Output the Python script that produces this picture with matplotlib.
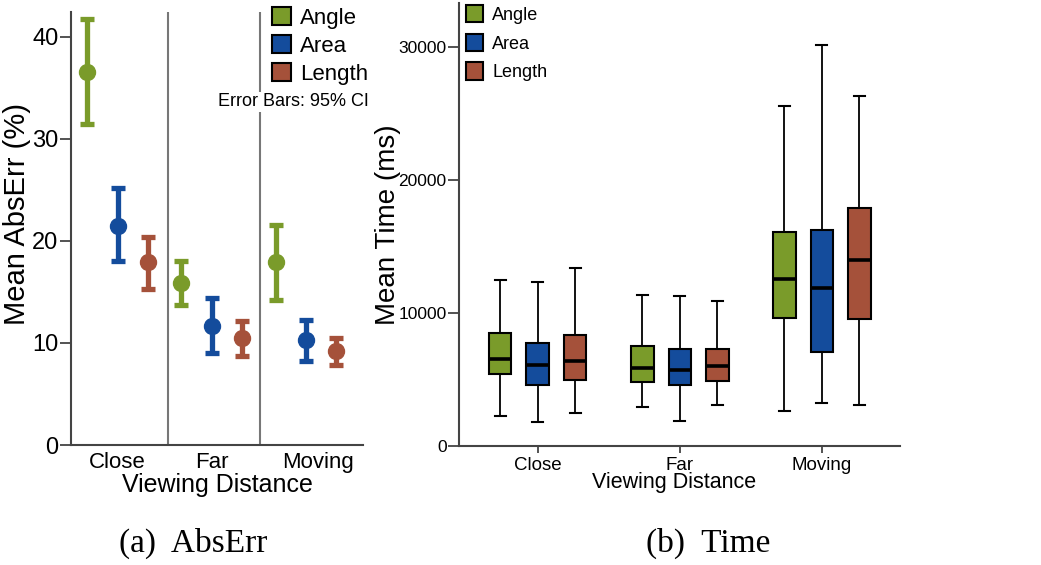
import numpy as np
import matplotlib.pyplot as plt
from matplotlib.patches import Patch

plt.rcParams['font.family'] = ['Liberation Sans', 'DejaVu Sans']

groups = ['Close', 'Far', 'Moving']
series = ['Angle', 'Area', 'Length']
colors = ['#7a9b2a', '#144c9c', '#a5513a']

# (a) mean abs error (%) with 95% CI, rows = series, cols = groups
err_mean = [[36.6, 15.85, 17.9], [21.5, 11.7, 10.3], [17.9, 10.45, 9.2]]
err_lo = [[31.5, 13.7, 14.2], [18.0, 9.0, 8.2], [15.3, 8.7, 7.85]]
err_hi = [[41.8, 18.0, 21.6], [25.2, 14.4, 12.25], [20.4, 12.2, 10.45]]

# (b) time (ms) boxplot stats, rows = series, cols = groups
t_whislo = [[2250, 2880, 2630], [1755, 1855, 3205], [2455, 3080, 3055]]
t_q1 = [[5380, 4805, 9605], [4555, 4555, 7055], [4930, 4855, 9505]]
t_med = [[6555, 5855, 12555], [6055, 5680, 11880], [6355, 5980, 13980]]
t_q3 = [[8480, 7480, 16055], [7730, 7305, 16255], [8355, 7255, 17855]]
t_whishi = [[12480, 11355, 25560], [12300, 11255, 30135], [13380, 10855, 26310]]

W, H = 1041, 565
fig = plt.figure(figsize=(W/100, H/100), dpi=100)

# ---- (a) AbsErr
ax1 = fig.add_axes([71/W, 1-445/H, 292/W, 433/H])
x = np.arange(len(groups))
off = 0.32
for i, s in enumerate(series):
    m = np.array(err_mean[i])
    lo = m - np.array(err_lo[i])
    hi = np.array(err_hi[i]) - m
    ax1.errorbar(x + (i-1)*off, m, yerr=[lo, hi], fmt='o', color=colors[i],
                 ms=11.5, elinewidth=3.8, capsize=4.7, capthick=3.8)
ax1.set_xlim(-0.495, 2.61)
ax1.set_ylim(0, 42.45)
ax1.set_yticks([0, 10, 20, 30, 40])
# the "Moving" label sits a little right of its group in the original
ax1.set_xticks(x + np.array([0, 0, 0.13]))
ax1.set_xticklabels(groups)
ax1.tick_params(axis='x', length=0, labelsize=16, pad=5)
ax1.tick_params(axis='y', length=8, width=1.3, labelsize=17, pad=1, color='#444444')
for sx in [0.535, 1.515]:
    ax1.axvline(sx, color='#777777', lw=1.5, zorder=0)
for sp in ['top', 'right']:
    ax1.spines[sp].set_visible(False)
for sp in ['left', 'bottom']:
    ax1.spines[sp].set_color('#444444')
    ax1.spines[sp].set_linewidth(1.5)
ax1.set_ylabel('Mean AbsErr (%)', fontsize=21, va='center')
ax1.yaxis.set_label_coords(-0.185, 0.533)
ax1.set_xlabel('Viewing Distance', fontsize=18, va='center')
ax1.xaxis.set_label_coords(0.5, -0.092)
fig.text(369/W, 1-102/H, 'Error Bars: 95% CI', fontsize=13, ha='right', va='center',
         bbox=dict(facecolor='white', edgecolor='none', pad=1))

handles = [Patch(facecolor=c, edgecolor='black', lw=1.5, label=s) for s, c in zip(series, colors)]
fig.legend(handles=handles, loc='upper left', bbox_to_anchor=(272/W, 1-7/H), frameon=False,
           fontsize=16, handlelength=0.85, handleheight=0.85, handletextpad=0.4,
           labelspacing=0.3, borderpad=0, borderaxespad=0)

# ---- (b) Time
ax2 = fig.add_axes([459/W, 1-445.7/H, 441/W, 442.7/H])
off2 = 0.264
for i, s in enumerate(series):
    stats = []
    for j in range(len(groups)):
        stats.append(dict(whislo=t_whislo[i][j], q1=t_q1[i][j], med=t_med[i][j],
                          q3=t_q3[i][j], whishi=t_whishi[i][j], fliers=[]))
    ax2.bxp(stats, positions=x + (i-1)*off2, widths=0.158, patch_artist=True,
            showfliers=False, manage_ticks=False,
            boxprops=dict(facecolor=colors[i], edgecolor='black', lw=1.5),
            medianprops=dict(color='black', lw=2.6),
            whiskerprops=dict(color='black', lw=1.3),
            capprops=dict(color='black', lw=1.5))
ax2.set_xlim(-0.554, 2.55)
ax2.set_ylim(0, 33300)
ax2.set_yticks([0, 10000, 20000, 30000])
ax2.set_xticks(x)
ax2.set_xticklabels(groups)
ax2.tick_params(axis='x', length=5, width=1.3, labelsize=13.5, pad=3, color='#444444')
ax2.tick_params(axis='y', length=8, width=1.3, labelsize=12.5, pad=1, color='#444444')
for sp in ['top', 'right']:
    ax2.spines[sp].set_visible(False)
for sp in ['left', 'bottom']:
    ax2.spines[sp].set_color('#444444')
    ax2.spines[sp].set_linewidth(1.5)
ax2.set_ylabel('Mean Time (ms)', fontsize=20, va='center')
ax2.yaxis.set_label_coords(-0.16, 0.4985)
ax2.set_xlabel('Viewing Distance', fontsize=15.5, va='center')
ax2.xaxis.set_label_coords(0.4875, -0.084)
fig.legend(handles=handles, loc='upper left', bbox_to_anchor=(466/W, 1-5/H), frameon=False,
           fontsize=13, handlelength=0.95, handleheight=1.1, handletextpad=0.5,
           labelspacing=0.55, borderpad=0, borderaxespad=0)

# captions
fig.text(193/W, 1-543/H, '(a)  AbsErr', family=['Liberation Serif'], fontsize=24, ha='center', va='center')
fig.text(708/W, 1-543/H, '(b)  Time', family=['Liberation Serif'], fontsize=24, ha='center', va='center')

fig.savefig('out.png', dpi=100)
